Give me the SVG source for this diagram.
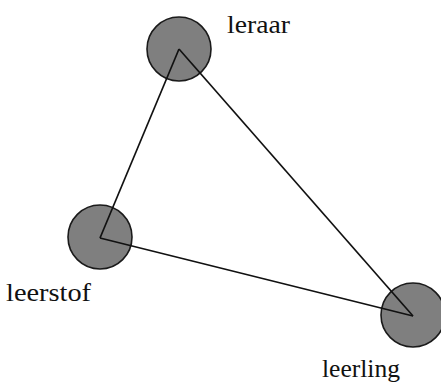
<svg xmlns="http://www.w3.org/2000/svg" width="441" height="383" viewBox="0 0 441 383">
<style>
.node circle{fill:#7f7f7f;stroke:#1a1a1a;stroke-width:1.6}
.lbl{font-family:'Liberation Serif','DejaVu Serif',serif;font-size:25px;fill:#111}
.edge{stroke:#111;stroke-width:1.7;fill:none}
</style>
<rect width="441" height="383" fill="#fff"/>
<g id="leraar" class="node"><circle cx="179" cy="49" r="32"/><text class="lbl" font-family="Liberation Serif, serif" x="227" y="33" textLength="63" lengthAdjust="spacingAndGlyphs">leraar</text></g>
<g id="leerstof" class="node"><circle cx="100" cy="237" r="32"/><text class="lbl" font-family="Liberation Serif, serif" x="6" y="301" textLength="85" lengthAdjust="spacingAndGlyphs">leerstof</text></g>
<g id="leerling" class="node"><circle cx="413" cy="315" r="32"/><text class="lbl" font-family="Liberation Serif, serif" x="322" y="377" textLength="78" lengthAdjust="spacingAndGlyphs">leerling</text></g>
<g id="connectors">
<line class="edge" x1="179" y1="49" x2="100" y2="238"/>
<line class="edge" x1="100" y1="238" x2="413" y2="316"/>
<line class="edge" x1="179" y1="49" x2="413" y2="316"/>
</g>
</svg>
